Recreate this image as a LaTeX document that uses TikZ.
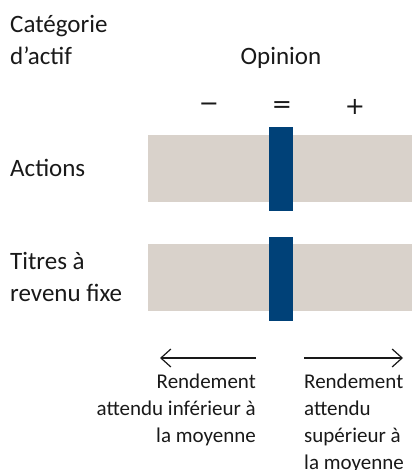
\documentclass[tikz,border=0pt]{standalone}
\usepackage{fontspec}
\setmainfont{Carlito}
\newfontfamily\signfont{DejaVu Sans}
\usetikzlibrary{arrows.meta}
\definecolor{barsand}{RGB}{217,210,203}
\definecolor{barblue}{RGB}{0,65,120}
\definecolor{inktext}{RGB}{25,25,25}
\tikzset{
  rowtext/.style={anchor=base west, align=left, inner sep=0pt, text=inktext,
    font=\fontsize{25}{32}\selectfont},
  signtext/.style={inner sep=0pt, text=inktext, font=\signfont\fontsize{24}{30}\selectfont},
  notetext/.style={inner sep=0pt, text=inktext, font=\fontsize{21}{27}\selectfont},
  sandbar/.style={fill=barsand, inner sep=0pt, minimum width=264pt, minimum height=67pt},
  bluebar/.style={fill=barblue, inner sep=0pt, minimum width=24pt, minimum height=84pt}
}
\begin{document}
\begin{tikzpicture}[x=1pt,y=-1pt,>={Straight Barb[length=10pt,width=18pt]}]
\useasboundingbox (0,0) rectangle (412,470);
% headings
\node[rowtext] (cat) at (10,65) {Catégorie\\d’actif};
\node[rowtext, anchor=base] (opinion) at (281,65) {Opinion};
\node[signtext] (minus) at (209,107) {−};
\node[signtext] (equal) at (282,107) {=};
\node[signtext] (plus) at (355,107) {+};
% bars
\node[sandbar] (actbar) at (280,168.5) {};
\node[bluebar] (actmark) at (281,169) {};
\node[sandbar] (fixbar) at (280,277.3) {};
\node[bluebar] (fixmark) at (281,278.8) {};
\node[rowtext] (actions) at (10,177) {Actions};
\node[rowtext] (titres) at (10,301) {Titres à\\revenu fixe};
% arrows
\coordinate (lowstart) at (256,358);
\coordinate (lowend) at (160,358);
\coordinate (highstart) at (304,358);
\coordinate (highend) at (403,358);
\draw[->, line width=1.2pt, inktext] (lowstart) -- (lowend);
\draw[->, line width=1.2pt, inktext] (highstart) -- (highend);
\node[notetext, anchor=north east, align=right] (lownote) at (256,374) {Rendement\\attendu inférieur à\\la moyenne};
\node[notetext, anchor=north west, align=left] (highnote) at (304,374) {Rendement\\attendu\\supérieur à\\la moyenne};
\end{tikzpicture}
\end{document}
